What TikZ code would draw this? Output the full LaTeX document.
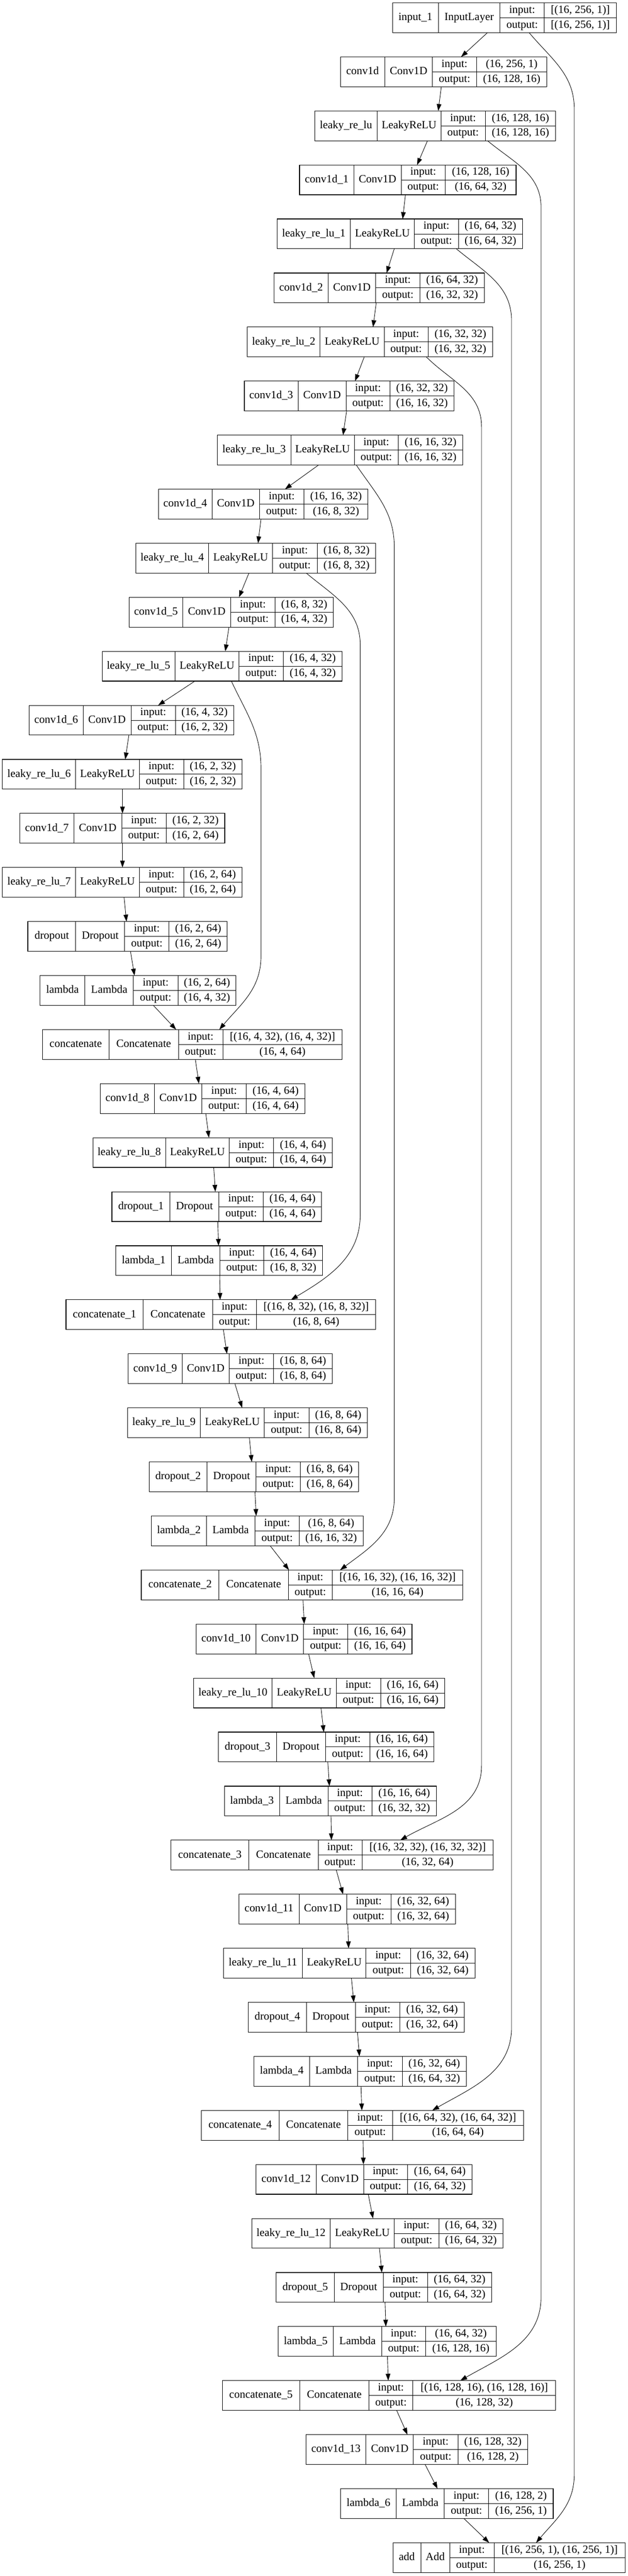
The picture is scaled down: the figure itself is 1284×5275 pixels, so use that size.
\documentclass[tikz,border=0pt]{standalone}
\usepackage{fontspec}
\setmainfont{Liberation Serif}
\usetikzlibrary{arrows.meta}

% column borders of one layer box: left, name|class, class|label, label|value, right
\def\splitcols#1,#2,#3,#4,#5\relax{\def\cL{#1}\def\cA{#2}\def\cB{#3}\def\cC{#4}\def\cR{#5}}

% one keras layer: id, row, columns, name, class, input shape, output shape
\newcommand{\kerasbox}[7]{%
  \splitcols#3\relax
  \pgfmathsetmacro\yt{-(5.8+110.66*#2)}
  \pgfmathsetmacro\yc{\yt-30.5}
  \pgfmathsetmacro\yb{\yt-61}
  \pgfmathsetmacro\yu{\yt-15.25}
  \pgfmathsetmacro\yl{\yt-45.75}
  \node[layerbox, minimum width={(\cR-\cL)*0.75pt}, anchor=north west] (#1) at (\cL,\yt) {};
  \draw[sepline] (\cA,\yt) -- (\cA,\yb) (\cB,\yt) -- (\cB,\yb) (\cC,\yt) -- (\cC,\yb) (\cB,\yc) -- (\cR,\yc);
  \node[lbl] (#1-name) at ({(\cL+\cA)/2},\yc) {#4};
  \node[lbl] (#1-class) at ({(\cA+\cB)/2},\yc) {#5};
  \node[lbl] (#1-inl) at ({(\cB+\cC)/2},\yu) {input:};
  \node[lbl] (#1-outl) at ({(\cB+\cC)/2},\yl) {output:};
  \node[lbl] (#1-in) at ({(\cC+\cR)/2},\yu) {#6};
  \node[lbl] (#1-out) at ({(\cC+\cR)/2},\yl) {#7};
}

% straight connector: source, x on its bottom, target, x on its top
\newcommand{\flow}[4]{%
  \coordinate (fa) at (#2,0); \coordinate (fb) at (#4,0);
  \draw[link] (#1.south -| fa) -- (#3.north -| fb);
}

% skip connector: source, x, out angle, x of the long run, y from, y to, target, x, in angle
\newcommand{\skipflow}[9]{%
  \coordinate (fa) at (#2,0); \coordinate (fb) at (#8,0);
  \draw[link] (#1.south -| fa) to[out=#3, in=90] (#4,-#5) -- (#4,-#6) to[out=-90, in=#9] (#7.north -| fb);
}

\begin{document}
\begin{tikzpicture}[x=0.75pt, y=0.75pt,
    layerbox/.style={draw, line width=0.9pt, inner sep=0pt, outer sep=0pt, minimum height=45.75pt},
    sepline/.style={line width=0.75pt},
    lbl/.style={inner sep=0pt, font=\fontsize{17}{20}\selectfont, text height=12pt, text depth=3.6pt},
    link/.style={line width=0.7pt, -{Triangle[length=10.5pt, width=7.2pt]}}]

    % page
    \fill[white] (0,0) rectangle (1284,-5275);
    \useasboundingbox (0,0) rectangle (1284,-5275);

    % encoder
    \kerasbox{input1}{0}{803,897,1023,1114,1261}{input\_1}{InputLayer}{[(16, 256, 1)]}{[(16, 256, 1)]}
    \kerasbox{conv0}{1}{697,787,885,975,1119}{conv1d}{Conv1D}{(16, 256, 1)}{(16, 128, 16)}
    \kerasbox{relu0}{2}{644,772,902,993,1137}{leaky\_re\_lu}{LeakyReLU}{(16, 128, 16)}{(16, 128, 16)}
    \kerasbox{conv1}{3}{613,724,821,911,1056}{conv1d\_1}{Conv1D}{(16, 128, 16)}{(16, 64, 32)}
    \kerasbox{relu1}{4}{567,717,848,938,1069}{leaky\_re\_lu\_1}{LeakyReLU}{(16, 64, 32)}{(16, 64, 32)}
    \kerasbox{conv2}{5}{561,671,769,859,991}{conv1d\_2}{Conv1D}{(16, 64, 32)}{(16, 32, 32)}
    \kerasbox{relu2}{6}{506,655,786,876,1008}{leaky\_re\_lu\_2}{LeakyReLU}{(16, 32, 32)}{(16, 32, 32)}
    \kerasbox{conv3}{7}{500,610,708,798,929}{conv1d\_3}{Conv1D}{(16, 32, 32)}{(16, 16, 32)}
    \kerasbox{relu3}{8}{445,595,725,815,947}{leaky\_re\_lu\_3}{LeakyReLU}{(16, 16, 32)}{(16, 16, 32)}
    \kerasbox{conv4}{9}{324,434,531,622,753}{conv1d\_4}{Conv1D}{(16, 16, 32)}{(16, 8, 32)}
    \kerasbox{relu4}{10}{278,427,558,649,769}{leaky\_re\_lu\_4}{LeakyReLU}{(16, 8, 32)}{(16, 8, 32)}
    \kerasbox{conv5}{11}{264,374,472,563,682}{conv1d\_5}{Conv1D}{(16, 8, 32)}{(16, 4, 32)}
    \kerasbox{relu5}{12}{209,358,489,580,700}{leaky\_re\_lu\_5}{LeakyReLU}{(16, 4, 32)}{(16, 4, 32)}
    \kerasbox{conv6}{13}{60,170,268,359,478}{conv1d\_6}{Conv1D}{(16, 4, 32)}{(16, 2, 32)}
    \kerasbox{relu6}{14}{5,155,285,376,495}{leaky\_re\_lu\_6}{LeakyReLU}{(16, 2, 32)}{(16, 2, 32)}
    \kerasbox{conv7}{15}{41,151,249,340,460}{conv1d\_7}{Conv1D}{(16, 2, 32)}{(16, 2, 64)}
    \kerasbox{relu7}{16}{5,155,285,376,495}{leaky\_re\_lu\_7}{LeakyReLU}{(16, 2, 64)}{(16, 2, 64)}

    % decoder
    \kerasbox{drop0}{17}{57,155,255,346,465}{dropout}{Dropout}{(16, 2, 64)}{(16, 2, 64)}
    \kerasbox{lam0}{18}{82,174,273,364,483}{lambda}{Lambda}{(16, 2, 64)}{(16, 4, 32)}
    \kerasbox{cat0}{19}{87,223,365,456,700}{concatenate}{Concatenate}{[(16, 4, 32), (16, 4, 32)]}{(16, 4, 64)}
    \kerasbox{conv8}{20}{205,316,413,504,624}{conv1d\_8}{Conv1D}{(16, 4, 64)}{(16, 4, 64)}
    \kerasbox{relu8}{21}{190,339,469,560,680}{leaky\_re\_lu\_8}{LeakyReLU}{(16, 4, 64)}{(16, 4, 64)}
    \kerasbox{drop1}{22}{229,348,448,539,658}{dropout\_1}{Dropout}{(16, 4, 64)}{(16, 4, 64)}
    \kerasbox{lam1}{23}{237,351,450,540,660}{lambda\_1}{Lambda}{(16, 4, 64)}{(16, 8, 32)}
    \kerasbox{cat1}{24}{135,293,435,525,769}{concatenate\_1}{Concatenate}{[(16, 8, 32), (16, 8, 32)]}{(16, 8, 64)}
    \kerasbox{conv9}{25}{262,373,469,560,680}{conv1d\_9}{Conv1D}{(16, 8, 64)}{(16, 8, 64)}
    \kerasbox{relu9}{26}{261,410,541,632,752}{leaky\_re\_lu\_9}{LeakyReLU}{(16, 8, 64)}{(16, 8, 64)}
    \kerasbox{drop2}{27}{305,424,524,615,734}{dropout\_2}{Dropout}{(16, 8, 64)}{(16, 8, 64)}
    \kerasbox{lam2}{28}{310,422,522,612,743}{lambda\_2}{Lambda}{(16, 8, 64)}{(16, 16, 32)}
    \kerasbox{cat2}{29}{289,448,590,680,947}{concatenate\_2}{Concatenate}{[(16, 16, 32), (16, 16, 32)]}{(16, 16, 64)}
    \kerasbox{conv10}{30}{401,524,621,712,843}{conv1d\_10}{Conv1D}{(16, 16, 64)}{(16, 16, 64)}
    \kerasbox{relu10}{31}{396,557,688,779,910}{leaky\_re\_lu\_10}{LeakyReLU}{(16, 16, 64)}{(16, 16, 64)}
    \kerasbox{drop3}{32}{447,566,666,757,888}{dropout\_3}{Dropout}{(16, 16, 64)}{(16, 16, 64)}
    \kerasbox{lam3}{33}{459,572,671,761,893}{lambda\_3}{Lambda}{(16, 16, 64)}{(16, 32, 32)}
    \kerasbox{cat3}{34}{350,509,651,741,1009}{concatenate\_3}{Concatenate}{[(16, 32, 32), (16, 32, 32)]}{(16, 32, 64)}
    \kerasbox{conv11}{35}{489,612,709,800,932}{conv1d\_11}{Conv1D}{(16, 32, 64)}{(16, 32, 64)}
    \kerasbox{relu11}{36}{457,619,749,840,972}{leaky\_re\_lu\_11}{LeakyReLU}{(16, 32, 64)}{(16, 32, 64)}
    \kerasbox{drop4}{37}{508,627,727,818,950}{dropout\_4}{Dropout}{(16, 32, 64)}{(16, 32, 64)}
    \kerasbox{lam4}{38}{520,633,732,823,954}{lambda\_4}{Lambda}{(16, 32, 64)}{(16, 64, 32)}
    \kerasbox{cat4}{39}{412,571,712,803,1071}{concatenate\_4}{Concatenate}{[(16, 64, 32), (16, 64, 32)]}{(16, 64, 64)}
    \kerasbox{conv12}{40}{524,647,744,834,966}{conv1d\_12}{Conv1D}{(16, 64, 64)}{(16, 64, 32)}
    \kerasbox{relu12}{41}{515,676,807,898,1029}{leaky\_re\_lu\_12}{LeakyReLU}{(16, 64, 32)}{(16, 64, 32)}
    \kerasbox{drop5}{42}{565,684,784,875,1006}{dropout\_5}{Dropout}{(16, 64, 32)}{(16, 64, 32)}
    \kerasbox{lam5}{43}{569,682,781,871,1015}{lambda\_5}{Lambda}{(16, 64, 32)}{(16, 128, 16)}
    \kerasbox{cat5}{44}{455,613,755,845,1137}{concatenate\_5}{Concatenate}{[(16, 128, 16), (16, 128, 16)]}{(16, 128, 32)}
    \kerasbox{conv13}{45}{626,749,846,937,1080}{conv1d\_13}{Conv1D}{(16, 128, 32)}{(16, 128, 2)}
    \kerasbox{lam6}{46}{697,811,909,1000,1132}{lambda\_6}{Lambda}{(16, 128, 2)}{(16, 256, 1)}
    \kerasbox{add}{47}{804,861,920,1011,1279}{add}{Add}{[(16, 256, 1), (16, 256, 1)]}{(16, 256, 1)}

    % main chain
    \foreach \a/\xa/\b/\xb in {input1/997.5/conv0/943.5, conv0/903/relu0/896.7,
        relu0/874.7/conv1/853.4, conv1/829.6/relu1/823.9, relu1/806.7/conv2/791,
        conv2/769.8/relu2/763.3, relu2/745.3/conv3/726.4, conv3/709.2/relu3/701.9,
        relu3/652/conv4/583.1, conv4/534/relu4/528, relu4/509.4/conv5/489,
        conv5/468.5/relu5/461, relu5/398.8/conv6/323.5, conv6/263.7/relu6/256.3,
        relu6/250.6/conv7/250.6, conv7/250.6/relu7/250.6, relu7/253.9/drop0/258.8,
        drop0/267/lam0/275.2, lam0/313.7/cat0/360.4, cat0/399.7/conv8/407,
        conv8/421/relu8/427.5, relu8/437.3/drop1/440.6, drop1/445.5/lam1/447.2,
        lam1/449.6/cat1/450.4, cat1/457/conv9/464.4, conv9/480.7/relu9/495.5,
        relu9/510.2/drop2/515.1, drop2/521.7/lam2/524.2, lam2/552.8/cat2/591.3,
        cat2/620/conv10/622.4, conv10/631.4/relu10/643, relu10/656.8/drop3/662.6,
        drop3/670.7/lam3/674, lam3/677.3/cat3/678.1, cat3/688/conv11/701.9,
        conv11/711.7/relu11/713.3, relu11/719/drop4/724, drop4/731.4/lam4/735.5,
        lam4/738.7/cat4/740.4, cat4/742.8/conv12/743.6, conv12/753.5/relu12/763.3,
        relu12/776.4/drop5/781.3, drop5/787.9/lam5/789.5, lam5/792.8/cat5/794.4,
        cat5/811.6/conv13/833.7, conv13/869.8/lam6/895.2, lam6/949.2/add/1000.8}
        \flow{\a}{\xa}{\b}{\xb};

    % skip connections
    \skipflow{input1}{1082.6}{-50}{1175}{223}{5067}{add}{1097}{50}
    \skipflow{relu0}{997.5}{-40}{1107}{424}{4704}{cat5}{941.8}{30}
    \skipflow{relu1}{933.7}{-40}{1046.6}{656}{4152}{cat4}{884.5}{30}
    \skipflow{relu2}{872.2}{-45}{985.3}{874}{3616}{cat3}{819}{30}
    \skipflow{relu3}{728.9}{-56}{806.7}{1120}{3068}{cat2}{696}{37}
    \skipflow{relu4}{626.5}{-40}{737}{1320}{2488}{cat1}{595.4}{31}
    \skipflow{relu5}{473.4}{-65}{534}{1574}{1958}{cat0}{448.8}{50}

\end{tikzpicture}
\end{document}
